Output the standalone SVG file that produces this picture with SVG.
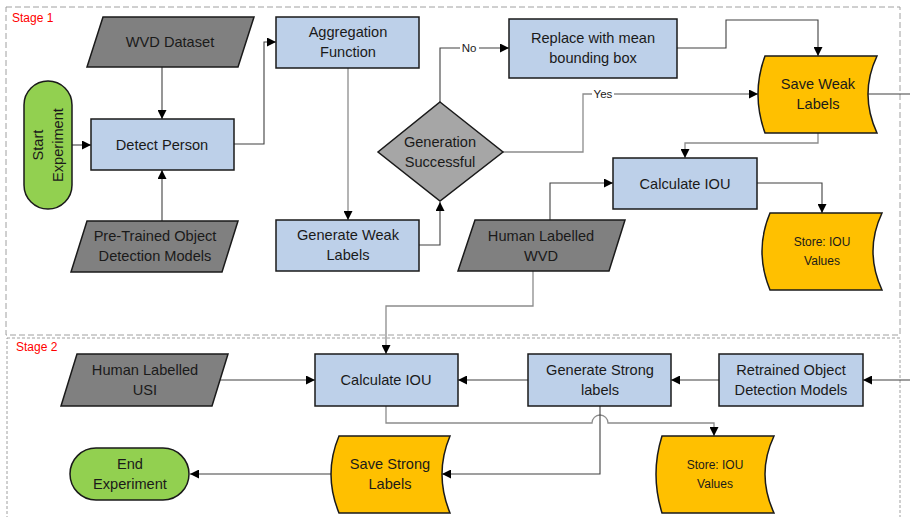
<svg xmlns="http://www.w3.org/2000/svg" width="910" height="517" viewBox="0 0 910 517">
<style>
text{font-family:"Liberation Sans",Arial,sans-serif;fill:#1a1a1a;text-anchor:middle}
.t{font-size:14.6px}
.s{font-size:12px}
.lbl{font-size:11.5px}
.stage{font-size:12px;fill:#ff0000;text-anchor:start}
.box{fill:#bdd0e9;stroke:#1a1a1a;stroke-width:1.5}
.io{fill:#808080;stroke:#1a1a1a;stroke-width:1.5}
.dec{fill:#a6a6a6;stroke:#1a1a1a;stroke-width:1.5}
.store{fill:#ffc000;stroke:#1a1a1a;stroke-width:1.5}
.term{fill:#92d050;stroke:#1a1a1a;stroke-width:1.5}
.c{fill:none;stroke:#404040;stroke-width:1.1}
.g{fill:none;stroke:#8c8c8c;stroke-width:1.3}
</style>
<defs>
<marker id="arr" viewBox="0 0 10 10" refX="10" refY="5" markerWidth="9" markerHeight="9" markerUnits="userSpaceOnUse" orient="auto">
<path d="M0,0 L10,5 L0,10 z" fill="#000"/>
</marker>
</defs>
<rect width="910" height="517" fill="#fff"/>

<g id="stages">
<rect x="6" y="7" width="894" height="328" fill="none" stroke="#a0a0a0" stroke-width="1" stroke-dasharray="6,3"/>
<rect x="7" y="338" width="893" height="200" fill="none" stroke="#a0a0a0" stroke-width="1" stroke-dasharray="3,2"/>
<text class="stage" x="12" y="22">Stage 1</text>
<text class="stage" x="16" y="351">Stage 2</text>
</g>

<g id="connectors">
<path class="c" d="M72,145 H91" marker-end="url(#arr)"/>
<path class="c" d="M162,67 V119" marker-end="url(#arr)"/>
<path class="c" d="M162,221 V170" marker-end="url(#arr)"/>
<path class="c" d="M234,144 H264 V42 H276" marker-end="url(#arr)"/>
<path class="g" d="M348,68 V220" marker-end="url(#arr)"/>
<path class="c" d="M419,245 H440 V202" marker-end="url(#arr)"/>
<path class="c" d="M440,102 V48 H509" marker-end="url(#arr)"/>
<path class="c" d="M677,48 H726 V20 H818 V56" marker-end="url(#arr)"/>
<path class="g" d="M503,152 H583 V94 H758" marker-end="url(#arr)"/>
<path class="c" d="M868,94 H910"/>
<path class="g" d="M818,133 V143 H685 V158" marker-end="url(#arr)"/>
<path class="c" d="M757,183 H822 V213" marker-end="url(#arr)"/>
<path class="c" d="M550,220 V183 H613" marker-end="url(#arr)"/>
<path class="g" d="M533,271 V306 H386 V354" marker-end="url(#arr)"/>
<path class="c" d="M220,380 H315" marker-end="url(#arr)"/>
<path class="c" d="M528,380 H458" marker-end="url(#arr)"/>
<path class="c" d="M719,380 H671" marker-end="url(#arr)"/>
<path class="c" d="M910,380 H863" marker-end="url(#arr)"/>
<path class="g" d="M386,406 V423 H592 A8,8 0 0 1 608,423 H714 V436" marker-end="url(#arr)"/>
<path class="c" d="M600,406 V474 H442" marker-end="url(#arr)"/>
<path class="c" d="M331,474 H190" marker-end="url(#arr)"/>
<rect x="460" y="40" width="19" height="14" fill="#fff"/>
<text class="lbl" x="469" y="52">No</text>
<rect x="592" y="87" width="22" height="14" fill="#fff"/>
<text class="lbl" x="603" y="98">Yes</text>
</g>

<g id="start">
<rect class="term" x="24" y="81" width="48" height="128" rx="24"/>
<text class="t" transform="rotate(-90 48 145)"><tspan x="48" y="140">Start</tspan><tspan x="48" y="160">Experiment</tspan></text>
</g>

<g id="wvd-dataset">
<polygon class="io" points="103,17 254,17 238,67 87,67"/>
<text class="t" x="170" y="47">WVD Dataset</text>
</g>

<g id="detect-person">
<rect class="box" x="91" y="119" width="143" height="51"/>
<text class="t" x="162" y="150">Detect Person</text>
</g>

<g id="pretrained">
<polygon class="io" points="87,221 238,221 222,272 71,272"/>
<text class="t"><tspan x="155" y="241">Pre-Trained Object</tspan><tspan x="155" y="261">Detection Models</tspan></text>
</g>

<g id="aggregation">
<rect class="box" x="276" y="17" width="143" height="51"/>
<text class="t"><tspan x="348" y="37">Aggregation</tspan><tspan x="348" y="57">Function</tspan></text>
</g>

<g id="generate-weak">
<rect class="box" x="276" y="220" width="143" height="51"/>
<text class="t"><tspan x="348" y="240">Generate Weak</tspan><tspan x="348" y="260">Labels</tspan></text>
</g>

<g id="decision">
<polygon class="dec" points="440,102 503,152 440,201 378,152"/>
<text class="t"><tspan x="440" y="147">Generation</tspan><tspan x="440" y="167">Successful</tspan></text>
</g>

<g id="replace">
<rect class="box" x="509" y="19" width="168" height="59"/>
<text class="t"><tspan x="593" y="43">Replace with mean</tspan><tspan x="593" y="63">bounding box</tspan></text>
</g>

<g id="save-weak">
<path class="store" d="M765,56 H877 Q859,94 877,133 H765 Q751,94 765,56 Z"/>
<text class="t"><tspan x="818" y="89">Save Weak</tspan><tspan x="818" y="109">Labels</tspan></text>
</g>

<g id="calc-iou-1">
<rect class="box" x="613" y="158" width="144" height="51"/>
<text class="t" x="685" y="189">Calculate IOU</text>
</g>

<g id="store-iou-1">
<path class="store" d="M770,213 H882 Q864,251 882,290 H770 Q754,251 770,213 Z"/>
<text class="s"><tspan x="822" y="246">Store: IOU</tspan><tspan x="822" y="265">Values</tspan></text>
</g>

<g id="human-wvd">
<polygon class="io" points="475,220 625,220 609,271 458,271"/>
<text class="t"><tspan x="541" y="241">Human Labelled</tspan><tspan x="541" y="261">WVD</tspan></text>
</g>

<g id="human-usi">
<polygon class="io" points="77,354 228,354 212,406 61,406"/>
<text class="t"><tspan x="145" y="375">Human Labelled</tspan><tspan x="145" y="395">USI</tspan></text>
</g>

<g id="calc-iou-2">
<rect class="box" x="315" y="354" width="143" height="52"/>
<text class="t" x="386" y="385">Calculate IOU</text>
</g>

<g id="generate-strong">
<rect class="box" x="528" y="354" width="143" height="52"/>
<text class="t"><tspan x="600" y="375">Generate Strong</tspan><tspan x="600" y="395">labels</tspan></text>
</g>

<g id="retrained">
<rect class="box" x="719" y="354" width="144" height="52"/>
<text class="t"><tspan x="791" y="375">Retrained Object</tspan><tspan x="791" y="395">Detection Models</tspan></text>
</g>

<g id="save-strong">
<path class="store" d="M339,436 H450 Q434,474 450,513 H339 Q323,474 339,436 Z"/>
<text class="t"><tspan x="390" y="469">Save Strong</tspan><tspan x="390" y="489">Labels</tspan></text>
</g>

<g id="store-iou-2">
<path class="store" d="M662,436 H774 Q756,474 774,513 H662 Q650,474 662,436 Z"/>
<text class="s"><tspan x="715" y="469">Store: IOU</tspan><tspan x="715" y="488">Values</tspan></text>
</g>

<g id="end">
<rect class="term" x="70" y="448" width="119" height="52" rx="26"/>
<text class="t"><tspan x="130" y="469">End</tspan><tspan x="130" y="489">Experiment</tspan></text>
</g>
</svg>
